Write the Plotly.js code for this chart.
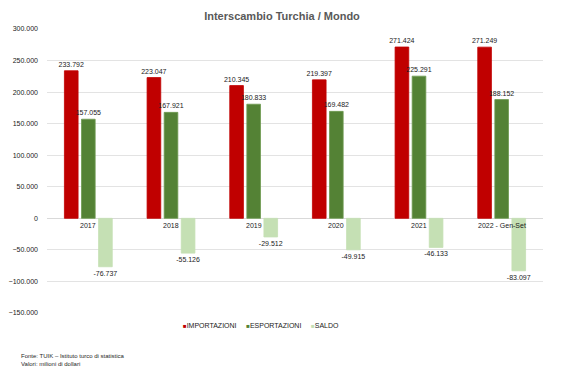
<!DOCTYPE html>
<html><head><meta charset="utf-8">
<script src="https://cdn.plot.ly/plotly-3.0.1.min.js"></script>
<style>html,body{margin:0;padding:0;background:#fff}#c{width:564px;height:376px}</style>
</head><body><div id="c"></div>
<script>
const categories = ["2017","2018","2019","2020","2021","2022 - Gen-Set"];
const importazioni = [233792, 223047, 210345, 219397, 271424, 271249];
const esportazioni = [157055, 167921, 180833, 169482, 225291, 188152];
const saldo = [-76737, -55126, -29512, -49915, -46133, -83097];
const seriesNames = ["IMPORTAZIONI", "ESPORTAZIONI", "SALDO"];
const yTicks = [-150000, -100000, -50000, 0, 50000, 100000, 150000, 200000, 250000, 300000];

const FONT = "Liberation Sans, Arial, sans-serif";
const labelFont = {family: FONT, size: 7, color: "#1a1a1a"};
const colors = ["#C00000", "#548235", "#C5E0B4"];
const lines = ["#C00000", "#6f9a50", "#C5E0B4"];
function bar(i, y) {
  return {type: "bar", name: seriesNames[i], x: categories, y: y,
    marker: {color: colors[i], line: {color: lines[i], width: 0.8}},
    texttemplate: "%{y:,d}", textposition: "outside",
    textfont: labelFont, outsidetextfont: labelFont,
    constraintext: "none", cliponaxis: false, hoverinfo: "skip"};
}
const data = [bar(0, importazioni), bar(1, esportazioni), bar(2, saldo)];

// category labels sit just under the zero line (x given as category index)
const annotations = categories.map((c, i) => ({
  x: i, y: 0, xref: "x", yref: "y", text: c, showarrow: false,
  yanchor: "top", yshift: -2, font: labelFont
}));
// legend drawn as a compact text row, like the original
const legendText = seriesNames.map((n, i) =>
  '<span style="color:' + colors[i] + ';font-size:6px">■</span>' + n).join("&nbsp;&nbsp;&nbsp;&nbsp;&nbsp;");
annotations.push({xref: "paper", yref: "paper", x: (261 - 47) / 496, y: -12 / 284,
  xanchor: "center", yanchor: "middle", showarrow: false, text: legendText,
  font: {family: FONT, size: 7, color: "#1a1a1a"}});
annotations.push({xref: "paper", yref: "paper", xanchor: "left", yanchor: "top",
  align: "left", showarrow: false,
  text: "Fonte: TUIK – Istituto turco di statistica<br>Valori: milioni di dollari",
  font: {family: FONT, size: 6, color: "#262626"},
  x: -28/496, y: -38/284});
const layout = {
  width: 564, height: 376,
  margin: {l: 47, r: 21, t: 29, b: 63},
  paper_bgcolor: "#fff", plot_bgcolor: "#fff",
  separators: ",.",
  title: {text: "Interscambio Turchia / Mondo", x: 0.5, xanchor: "center", y: 0.957, yanchor: "middle",
    font: {family: FONT, size: 11, color: "#595959", weight: "bold"}},
  barmode: "group", bargap: 0.38, bargroupgap: 0.2,
  xaxis: {type: "category", range: [-0.5, categories.length - 0.5],
    showticklabels: false, showgrid: false, zeroline: false, showline: false, ticks: ""},
  yaxis: {range: [-150000, 300000], tickvals: yTicks, tickformat: ",d",
    gridcolor: "#e3e3e3", gridwidth: 1, zeroline: true, zerolinecolor: "#d9d9d9", zerolinewidth: 1,
    showline: false, ticks: "", ticklabelstandoff: 8,
    tickfont: labelFont},
  showlegend: false,
  annotations: annotations
};
Plotly.newPlot("c", data, layout, {displayModeBar: false, staticPlot: true});
</script></body></html>
